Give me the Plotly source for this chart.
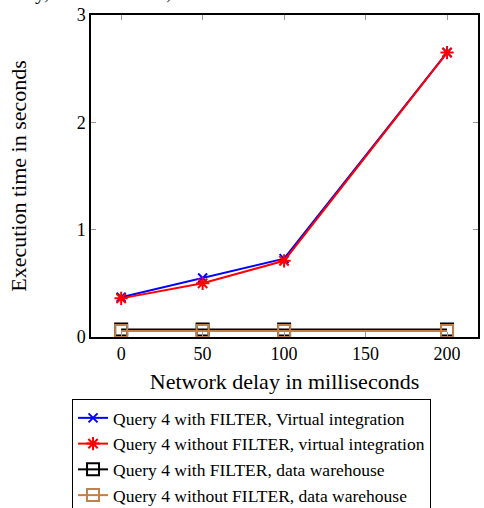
import plotly.graph_objects as go

delays = [0, 50, 100, 200]
vi_filter = [0.37, 0.55, 0.73, 2.65]
vi_nofilter = [0.36, 0.50, 0.71, 2.65]
dw_filter = [0.07, 0.07, 0.07, 0.07]
dw_nofilter = [0.055, 0.055, 0.055, 0.055]
names = [
    "Query 4 with FILTER, Virtual integration",
    "Query 4 without FILTER, virtual integration",
    "Query 4 with FILTER, data warehouse",
    "Query 4 without FILTER, data warehouse",
]
title_text = "delay, Medium data, 5 sources"

FONT = "Liberation Serif, Times New Roman, serif"
FS = 18

fig = go.Figure()
fig.add_trace(go.Scatter(x=delays, y=vi_filter, name=names[0], mode="lines+markers",
                         line=dict(color="#0000ff", width=2),
                         marker=dict(symbol="x-thin-open", size=9, line=dict(color="#0000ff", width=2))))
fig.add_trace(go.Scatter(x=delays, y=vi_nofilter, name=names[1], mode="lines+markers",
                         line=dict(color="#ff0000", width=2),
                         marker=dict(symbol="asterisk-open", size=11, line=dict(color="#ff0000", width=2))))
fig.add_trace(go.Scatter(x=delays, y=dw_filter, name=names[2], mode="lines+markers",
                         line=dict(color="#000000", width=2),
                         marker=dict(symbol="square-open", size=12, color="#000000", line=dict(color="#000000", width=2))))
fig.add_trace(go.Scatter(x=delays, y=dw_nofilter, name=names[3], mode="lines+markers",
                         line=dict(color="#c0804a", width=2),
                         marker=dict(symbol="square-open", size=12, color="#c0804a", line=dict(color="#c0804a", width=2))))

fig.update_layout(
    width=484, height=508,
    margin=dict(l=91, r=6, t=15, b=171, autoexpand=False),
    paper_bgcolor="white", plot_bgcolor="white",
    font=dict(family=FONT, size=FS, color="black"),
    showlegend=True,
    legend=dict(x=-0.049, y=-0.1925, xanchor="left", yanchor="top",
                bordercolor="black", borderwidth=1, bgcolor="white",
                font=dict(family=FONT, size=17.5, color="black"), tracegroupgap=0),
    annotations=[dict(text=title_text, xref="paper", yref="paper",
                      x=-0.235, y=1, xanchor="left", yanchor="bottom", yshift=9, xshift=-2,
                      showarrow=False, font=dict(family=FONT, size=21, color="black"))],
)
fig.update_xaxes(range=[-18.5, 219], tickvals=[0, 50, 100, 150, 200],
                 ticks="inside", ticklen=5, tickcolor="#999999", mirror="allticks",
                 showline=True, linecolor="black", linewidth=1.5, showgrid=False, zeroline=False,
                 title=dict(text="Network delay in milliseconds", standoff=10),
                 tickfont=dict(family=FONT, size=FS))
fig.update_yaxes(range=[0, 3], tickvals=[0, 1, 2, 3],
                 ticks="inside", ticklen=5, tickcolor="#999999", mirror="allticks",
                 showline=True, linecolor="black", linewidth=1.5, showgrid=False, zeroline=False,
                 title=dict(text="Execution time in seconds", standoff=44),
                 tickfont=dict(family=FONT, size=FS))

fig.write_html("out.html")
